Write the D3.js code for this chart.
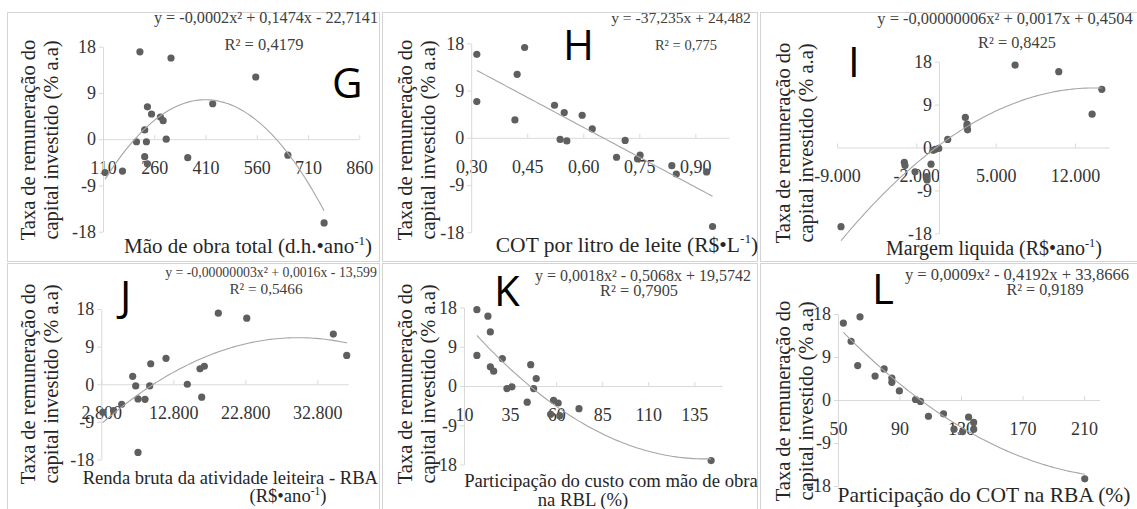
<!DOCTYPE html>
<html>
<head>
<meta charset="utf-8">
<script src="https://cdn.jsdelivr.net/npm/d3@7"></script>
<style>
  body { margin: 0; background: #fff; }
  text { font-family: "Liberation Serif", "Times New Roman", serif; }
</style>
</head>
<body>
<script>
// values, one pair of arrays per panel
const yTicks = [-18, -9, 0, 9, 18];

const gX = [116, 167, 218, 208, 232, 232, 237, 240, 240, 252, 278, 286, 295, 309, 358, 431, 557, 651, 757];
const gY = [-6.5, -6.2, 17.0, -0.5, 1.8, -3.4, -0.5, 6.3, -4.8, 4.9, 4.3, 3.6, 0, 15.8, -3.6, 6.9, 12.1, -3.1, -16.3];
const gTicks = [110, 260, 410, 560, 710, 860];

const hX = [0.315, 0.315, 0.417, 0.423, 0.443, 0.523, 0.538, 0.549, 0.556, 0.597, 0.624, 0.689, 0.712, 0.745, 0.752, 0.837, 0.849, 0.930, 0.946];
const hY = [15.9, 6.9, 3.4, 12.1, 17.2, 6.2, -0.3, 4.8, -0.6, 4.3, 1.7, -3.7, -0.5, -4.0, -3.3, -5.3, -6.9, -6.5, -16.9];
const hTicks = [0.30, 0.45, 0.60, 0.75, 0.90];

const iX = [-8647, -3059, -3000, -2115, -1082, -1050, -703, -500, -350, -22, 768, 2323, 2474, 2474, 2520, 6712, 10568, 13509, 14365];
const iY = [-16.6, -3.1, -3.8, -5.1, -6.1, -6.8, -3.5, -0.6, -0.4, -0.2, 1.7, 6.3, 4.9, 4.4, 3.7, 17.3, 15.9, 7.0, 12.2];
const iTicks = [-9000, -2000, 5000, 12000];

const jX = [3000, 4500, 5633, 7161, 7578, 7897, 7897, 8869, 9522, 9661, 11786, 14744, 16508, 17105, 16744, 19050, 23000, 35022, 36883];
const jY = [-6.7, -6.3, -4.8, 1.9, -0.4, -16.3, -3.5, -3.6, -0.4, 4.9, 6.2, 0, 3.7, 4.3, -3.1, 17.0, 15.8, 12.0, 6.9];
const jTicks = [2800, 12800, 22800, 32800];

const kX = [17, 17, 23, 24.3, 24.3, 26.1, 30.8, 33.3, 36, 44.3, 46.2, 47.8, 49.2, 58.6, 61.1, 57, 62, 72.4, 144.1];
const kY = [17.5, 7.0, 16.0, 12.4, 4.4, 3.4, 6.3, -0.6, -0.2, -3.7, 4.9, -0.6, 1.7, -3.3, -3.9, -6.5, -6.8, -5.2, -17.1];
const kTicks = [10, 35, 60, 85, 110, 135];

const lX = [53.5, 64.3, 58.5, 62.8, 74.1, 80.0, 85.0, 85.0, 89.9, 100.4, 103.6, 108.8, 118.6, 125.4, 131, 134.9, 138.2, 138.2, 210.4];
const lY = [16.1, 17.4, 12.3, 7.2, 5.0, 6.5, 4.6, 3.7, 1.9, 0.1, -0.3, -3.4, -2.9, -6.1, -6.6, -3.6, -4.7, -6.1, -16.5];
const lTicks = [50, 90, 130, 170, 210];

const yTitle = ['Taxa de remuneração do', 'capital investido (% a.a)'];

const W = 1137, H = 509;
const svg = d3.select('body').append('svg').attr('width', W).attr('height', H);

const br = d3.formatLocale({ decimal: ',', thousands: '.', grouping: [3], currency: ['R$', ''], minus: '-' });

// least squares polynomial, x rescaled for stability
function polyfit(xs, ys, deg) {
  const s = d3.max(xs, (v) => Math.abs(v));
  const n = deg + 1;
  const A = d3.range(n).map(() => new Array(n + 1).fill(0));
  xs.forEach((xv, k) => {
    const t = xv / s;
    for (let r = 0; r < n; r++) {
      for (let c = 0; c < n; c++) A[r][c] += Math.pow(t, r + c);
      A[r][n] += ys[k] * Math.pow(t, r);
    }
  });
  for (let i = 0; i < n; i++) {
    for (let r = i + 1; r < n; r++) {
      const f = A[r][i] / A[i][i];
      for (let c = i; c <= n; c++) A[r][c] -= f * A[i][c];
    }
  }
  const b = new Array(n).fill(0);
  for (let i = n - 1; i >= 0; i--) {
    let v = A[i][n];
    for (let c = i + 1; c < n; c++) v -= A[i][c] * b[c];
    b[i] = v / A[i][i];
  }
  return (xv) => b.reduce((acc, bi, i) => acc + bi * Math.pow(xv / s, i), 0);
}

// text with ^{..} superscripts
function richText(sel, str, fs) {
  const parts = str.split(/\^\{([^}]*)\}/);
  const up = fs * 0.4;
  let raised = false;
  parts.forEach((p, i) => {
    if (!p) return;
    const t = sel.append('tspan').text(p);
    if (i % 2 === 1) {
      t.attr('dy', -up).attr('font-size', fs * 0.62);
      raised = true;
    } else if (raised) {
      t.attr('dy', up);
      raised = false;
    }
  });
}

const panels = [
  { xs: gX, ys: gY, ticks: gTicks, deg: 2, fmt: br.format('d'), letter: 'G',
    xDomain: [110, 860], xRange: [103, 359.3], yRange: [231.7, 46.7], yCross: 110,
    eq: 'y = -0,0002x² + 0,1474x - 22,7141', eqPos: [266, 23, 16.2], r2: 'R² = 0,4179', r2Pos: [264, 50, 16.5],
    letterPos: [332, 98], titleSize: 21, xTitle: [['Mão de obra total (d.h.•ano^{-1})', 248, 253, 'middle']],
    yTitlePos: [140, 35, 58] },
  { xs: hX, ys: hY, ticks: hTicks, deg: 1, fmt: br.format('.2f'), letter: 'H',
    xDomain: [0.3, 0.99], xRange: [471.2, 729], yRange: [232.3, 43.3], yCross: 0.3,
    eq: 'y = -37,235x + 24,482', eqPos: [681, 23, 15.6], r2: 'R² = 0,775', r2Pos: [686, 50, 14.5],
    letterPos: [563, 60], titleSize: 21.5, xTitle: [['COT por litro de leite (R$•L^{-1})', 627, 252, 'middle']],
    yTitlePos: [140, 412, 435] },
  { xs: iX, ys: iY, ticks: iTicks, deg: 2, fmt: br.format(',d'), letter: 'I',
    xDomain: [-9000, 15000], xRange: [837, 1109], yRange: [233.3, 61.7], yCross: 0,
    eq: 'y = -0,00000006x² + 0,0017x + 0,4504', eqPos: [1005, 24, 16.4], r2: 'R² = 0,8425', r2Pos: [1017, 48, 16.3],
    letterPos: [848, 77], titleSize: 20, xTitle: [['Margem liquida (R$•ano^{-1})', 994, 255, 'middle']],
    yTitlePos: [143, 790, 813] },
  { xs: jX, ys: jY, ticks: jTicks, deg: 2, fmt: br.format(',d'), letter: 'J',
    xDomain: [2800, 37100], xRange: [101.3, 348.3], yRange: [459.5, 309], yCross: 2800,
    eq: 'y = -0,00000003x² + 0,0016x - 13,599', eqPos: [271, 277, 13.8], r2: 'R² = 0,5466', r2Pos: [266, 294, 15.3],
    letterPos: [120, 311], titleSize: 18.6,
    xTitle: [['Renda bruta da atividade leiteira - RBA', 378, 484, 'end'], ['(R$•ano^{-1})', 288, 502, 'middle']],
    yTitlePos: [384, 35, 58] },
  { xs: kX, ys: kY, ticks: kTicks, deg: 2, fmt: br.format('d'), letter: 'K',
    xDomain: [10, 150], xRange: [464, 722], yRange: [464.5, 307.5], yCross: 10,
    eq: 'y = 0,0018x² - 0,5068x + 19,5742', eqPos: [643, 281, 16], r2: 'R² = 0,7905', r2Pos: [639, 296, 16.3],
    letterPos: [494, 306], titleSize: 18.7,
    xTitle: [['Participação do custo com mão de obra', 611, 487, 'middle'], ['na RBL (%)', 583, 506, 'middle']],
    yTitlePos: [384, 412, 435] },
  { xs: lX, ys: lY, ticks: lTicks, deg: 2, fmt: br.format('d'), letter: 'L',
    xDomain: [50, 220], xRange: [838, 1099.5], yRange: [486, 314], yCross: 50,
    eq: 'y = 0,0009x² - 0,4192x + 33,8666', eqPos: [1017, 280, 16.6], r2: 'R² = 0,9189', r2Pos: [1045, 295, 16.1],
    letterPos: [872, 304], titleSize: 21.5, xTitle: [['Participação do COT na RBA (%)', 984, 502, 'middle']],
    yTitlePos: [401, 790, 813] }
];

// panel frames
const frames = [[7.5, 12.5, 372, 249], [382.5, 12.5, 375, 249], [760.5, 12.5, 390, 249],
                [7.5, 263.5, 372, 260], [382.5, 263.5, 375, 260], [760.5, 263.5, 390, 260]];
svg.selectAll('rect.frame').data(frames).enter().append('rect')
  .attr('class', 'frame')
  .attr('x', (d) => d[0]).attr('y', (d) => d[1])
  .attr('width', (d) => d[2]).attr('height', (d) => d[3])
  .attr('fill', 'none').attr('stroke', '#d4d4d4');

panels.forEach((p) => {
  const g = svg.append('g');
  const x = d3.scaleLinear().domain(p.xDomain).range(p.xRange);
  const y = d3.scaleLinear().domain([-18, 18]).range(p.yRange);

  const xa = g.append('g').attr('transform', `translate(0,${y(0)})`)
    .call(d3.axisBottom(x).tickValues(p.ticks).tickFormat(p.fmt)
      .tickSizeInner(-4).tickSizeOuter(0).tickPadding(22));
  const ya = g.append('g').attr('transform', `translate(${x(p.yCross)},0)`)
    .call(d3.axisLeft(y).tickValues(yTicks).tickFormat(br.format('d'))
      .tickSizeInner(4).tickSizeOuter(0).tickPadding(3));
  [xa, ya].forEach((a) => {
    a.select('.domain').attr('stroke', '#d9d9d9');
    a.selectAll('.tick line').attr('stroke', '#d9d9d9');
    a.selectAll('.tick text').attr('fill', '#333')
      .style('font-family', '"Liberation Serif", serif').style('font-size', '18px');
  });

  const fit = polyfit(p.xs, p.ys, p.deg);
  const ext = d3.extent(p.xs);
  const xsFit = d3.range(0, 81).map((i) => ext[0] + (ext[1] - ext[0]) * i / 80);
  g.selectAll('circle').data(p.xs).enter().append('circle')
    .attr('cx', (d) => x(d)).attr('cy', (d, i) => y(p.ys[i]))
    .attr('r', 3.6).attr('fill', '#5f5f5f');
  g.append('path').datum(xsFit)
    .attr('d', d3.line().x((d) => x(d)).y((d) => y(fit(d))))
    .attr('fill', 'none').attr('stroke', '#a6a6a6').attr('stroke-width', 1.1);

  g.append('text').attr('x', p.eqPos[0]).attr('y', p.eqPos[1]).attr('text-anchor', 'middle')
    .attr('font-size', p.eqPos[2]).attr('fill', '#404040').text(p.eq);
  g.append('text').attr('x', p.r2Pos[0]).attr('y', p.r2Pos[1]).attr('text-anchor', 'middle')
    .attr('font-size', p.r2Pos[2]).attr('fill', '#404040').text(p.r2);

  g.append('text').attr('x', p.letterPos[0]).attr('y', p.letterPos[1])
    .style('font-family', '"Open Sans", "Liberation Sans", sans-serif')
    .attr('font-size', 42).attr('fill', '#000').text(p.letter);

  p.xTitle.forEach((t) => {
    const tx = g.append('text').attr('x', t[1]).attr('y', t[2]).attr('text-anchor', t[3])
      .attr('font-size', p.titleSize).attr('fill', '#262626');
    richText(tx, t[0], p.titleSize);
  });

  const [cy, x1, x2] = p.yTitlePos;
  [x1, x2].forEach((bx, i) => {
    g.append('text').attr('transform', `translate(${bx},${cy}) rotate(-90)`)
      .attr('text-anchor', 'middle').attr('font-size', 20.5).attr('fill', '#262626')
      .text(yTitle[i]);
  });
});
</script>
</body>
</html>
